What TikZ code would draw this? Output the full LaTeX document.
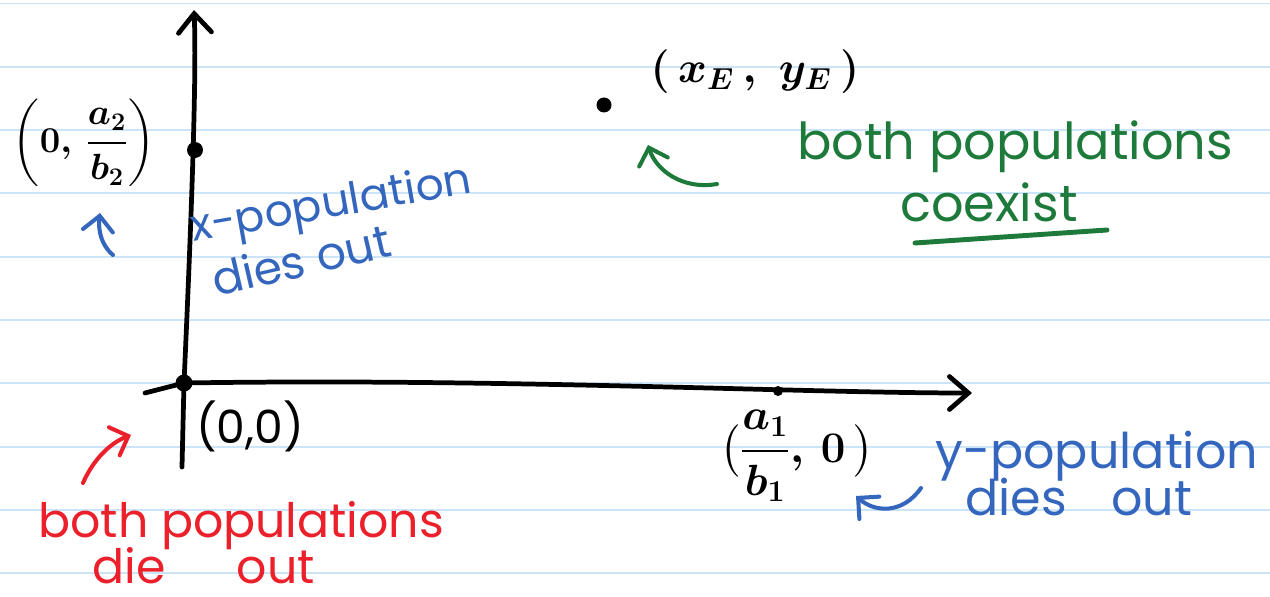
\documentclass[tikz,border=0pt]{standalone}
\usepackage{amsmath}
\usepackage{fontspec}
\setmainfont{Poppins}
\usetikzlibrary{arrows.meta}
\definecolor{ruled}{RGB}{204,228,247}
\definecolor{pgreen}{RGB}{30,122,58}
\definecolor{pblue}{RGB}{52,102,190}
\definecolor{pred}{RGB}{236,32,42}
\begin{document}
\begin{tikzpicture}[x=0.02cm,y=-0.02cm,
  rule/.style={ruled,line width=1.1pt},
  axis/.style={line width=2.7pt,line cap=round,
    -{Straight Barb[length=0.38cm,width=0.66cm,line cap=round]}},
  hand/.style={line width=2.3pt,line cap=round,
    -{Straight Barb[length=0.3cm,width=0.6cm,line cap=round]}},
  dotpt/.style={circle,fill=black,inner sep=0pt},
  lbl/.style={inner sep=0pt,anchor=base west},
  blk/.style={inner sep=0pt,text=black}
]
\useasboundingbox (0,0) rectangle (1270,597);
\fill[white] (0,0) rectangle (1270,597);
\foreach \k in {0,...,9} \draw[rule] (0,3.5+63.3*\k) -- (1270,3.5+63.3*\k);

% axes
\coordinate (ybot) at (182,467);
\coordinate (ytop) at (194,10);
\coordinate (xleft) at (145,393);
\coordinate (xright) at (972,393);
\node[dotpt,minimum size=0.34cm] (origin) at (184,383) {};
\draw[axis] (ybot) -- (origin.center) .. controls (190,250) and (197,80) .. (ytop);
\draw[axis] (xleft) -- (origin.center) .. controls (500,378) and (800,393) .. (xright);

% points
\node[dotpt,minimum size=0.32cm] (yint) at (195,150) {};
\node[dotpt,minimum size=0.2cm] (xint) at (778,391) {};
\node[dotpt,minimum size=0.3cm] (eq) at (604,105) {};

% black labels
\node[blk,font=\fontsize{22}{26}\selectfont\boldmath] (ylab) at (84,143)
  {$\left(0,\,\dfrac{a_2}{b_2}\right)$};
\node[blk,font=\fontsize{26}{30}\selectfont] (olab) at (250,426) {(0,0)};
\node[blk,font=\fontsize{23}{27}\selectfont\boldmath] (xlab) at (797,456)
  {$\bigl(\dfrac{a_1}{b_1},\,0\,\bigr)$};
\node[blk,font=\fontsize{26}{30}\selectfont\boldmath] (elab) at (755,72)
  {$(\,x_E\,,\;y_E\,)$};

% green
\node[lbl,text=pgreen,font=\fontsize{29}{32}\selectfont] (gboth) at (797,160)
  {both populations};
\node[lbl,text=pgreen,font=\fontsize{29}{32}\selectfont] (gco) at (900,222)
  {coexist};
\coordinate (ul1) at (915,243);
\coordinate (ul2) at (1107,230);
\draw[pgreen,line width=2.8pt,line cap=round] (ul1) -- (ul2);
\coordinate (garr) at (717,184);
\coordinate (gtip) at (648,145);
\draw[hand,pgreen] (garr) .. controls (682,190) and (656,170) .. (gtip);

% blue left
\node[lbl,text=pblue,rotate=10,font=\fontsize{25}{28}\selectfont] (xpop) at (193,242)
  {x-population};
\node[lbl,text=pblue,rotate=13,font=\fontsize{26}{29}\selectfont] (xdies) at (216,297)
  {dies out};
\coordinate (barr) at (113,255);
\coordinate (btip) at (100,213);
\draw[hand,pblue] (barr) .. controls (101,245) and (98,230) .. (btip);

% blue right
\node[lbl,text=pblue,font=\fontsize{28}{32}\selectfont] (ypop) at (935,468)
  {y-population};
\node[lbl,text=pblue,font=\fontsize{28}{32}\selectfont] (ydies) at (965,515)
  {dies\hspace{0.9em}out};
\coordinate (carr) at (921,488);
\coordinate (ctip) at (856,496);
\draw[hand,pblue] (carr) .. controls (902,515) and (874,512) .. (ctip);

% red
\node[lbl,text=pred,font=\fontsize{27}{30}\selectfont] (rboth) at (38,537)
  {both populations};
\node[lbl,text=pred,font=\fontsize{27}{30}\selectfont] (rdie) at (92,583)
  {die\hspace{1.5em}out};
\coordinate (rarr) at (83,483);
\coordinate (rtip) at (131,435);
\draw[hand,pred] (rarr) .. controls (93,460) and (110,443) .. (rtip);
\end{tikzpicture}
\end{document}
